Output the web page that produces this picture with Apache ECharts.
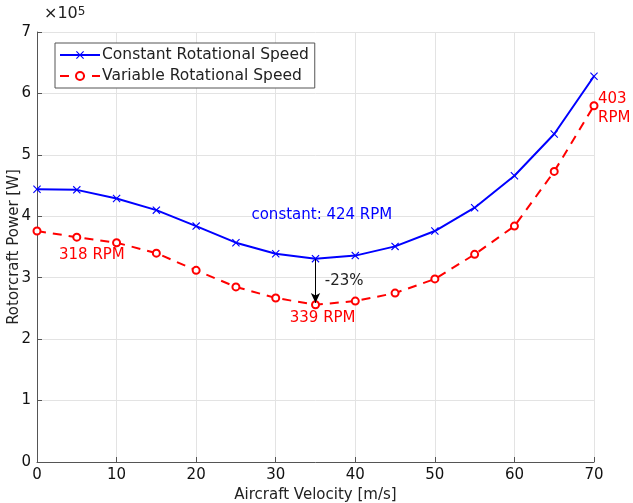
<!DOCTYPE html>
<html>
<head>
<meta charset="utf-8">
<script src="https://cdn.jsdelivr.net/npm/echarts@6/dist/echarts.min.js"></script>
<style>
  html, body { margin: 0; padding: 0; background: #fff; }
  #chart { width: 633px; height: 503px; }
</style>
</head>
<body>
<div id="chart"></div>
<script>
// velocity [m/s]
var velocity = [0, 5, 10, 15, 20, 25, 30, 35, 40, 45, 50, 55, 60, 65, 70];
// power in units of 1e5 W
var constantSpeed = [4.44, 4.43, 4.29, 4.10, 3.84, 3.57, 3.39, 3.31, 3.36, 3.51, 3.76, 4.14, 4.66, 5.34, 6.28];
var variableSpeed = [3.76, 3.66, 3.57, 3.40, 3.12, 2.85, 2.67, 2.56, 2.62, 2.75, 2.98, 3.38, 3.84, 4.73, 5.80];

var font = 'DejaVu Sans';
var xMark = 'path://M0,1 L1,0 L5,4 L9,0 L10,1 L6,5 L10,9 L9,10 L5,6 L1,10 L0,9 L4,5 Z';

function pairs(xs, ys) {
    return xs.map(function (x, i) { return [x, ys[i]]; });
}

function note(text, coord, color, align, offset) {
    return {
        coord: coord,
        symbol: 'circle',
        symbolSize: 1,
        itemStyle: { color: 'rgba(0,0,0,0)', borderWidth: 0 },
        label: {
            show: true,
            position: 'inside',
            formatter: text,
            color: color,
            fontFamily: font,
            fontSize: 15,
            align: align || 'center',
            offset: offset || [0, 0],
            lineHeight: 19
        }
    };
}

var myChart = echarts.init(document.getElementById('chart'));
var option = {
    backgroundColor: '#fff',
    animation: false,
    textStyle: { fontFamily: font },
    grid: { left: 37, right: 39, top: 32, bottom: 41, outerBoundsMode: 'none', containLabel: false },
    legend: {
        left: 55, top: 43,
        orient: 'vertical',
        itemWidth: 40, itemHeight: 10, itemGap: 5,
        padding: [4, 6, 4, 4],
        borderColor: '#555', borderWidth: 1,
        backgroundColor: '#fff',
        borderRadius: 0,
        textStyle: { fontFamily: font, fontSize: 15.5, color: '#222', padding: [0, 0, 0, -3] },
        data: ['Constant Rotational Speed', 'Variable Rotational Speed']
    },
    xAxis: {
        type: 'value', min: 0, max: 70, interval: 10,
        name: 'Aircraft Velocity [m/s]', nameLocation: 'middle', nameGap: 24,
        nameTextStyle: { fontSize: 15, color: '#222' },
        axisLine: { lineStyle: { color: '#555' } },
        axisTick: { inside: true, length: 5, lineStyle: { color: '#555' } },
        axisLabel: { fontSize: 15, color: '#111', margin: 6 },
        splitLine: { show: true, lineStyle: { color: '#e3e3e3' } }
    },
    yAxis: {
        type: 'value', min: 0, max: 7, interval: 1,
        name: 'Rotorcraft Power [W]', nameLocation: 'middle', nameGap: 15,
        nameMoveOverlap: false,
        nameTextStyle: { fontSize: 15, color: '#222' },
        axisLine: { show: true, lineStyle: { color: '#555' } },
        axisTick: { show: true, inside: true, length: 5, lineStyle: { color: '#555' } },
        axisLabel: { fontSize: 15, color: '#111', margin: 6 },
        splitLine: { show: true, lineStyle: { color: '#e3e3e3' } }
    },
    graphic: [{
        type: 'text', left: 44, top: 6,
        style: {
            text: '{a|×10}{b|5}',
            rich: {
                a: { fontFamily: font, fontSize: 16, fill: '#222', verticalAlign: 'bottom' },
                b: { fontFamily: font, fontSize: 12, fill: '#222', verticalAlign: 'top' }
            }
        }
    }],
    series: [{
        name: 'Constant Rotational Speed',
        type: 'line',
        data: pairs(velocity, constantSpeed),
        symbol: xMark, symbolSize: 8,
        color: '#0000ff',
        lineStyle: { width: 2, color: '#0000ff' },
        itemStyle: { color: '#0000ff' },
        markPoint: {
            data: [note('constant: 424 RPM', [35.8, 4.02], '#0000ff')]
        },
        z: 3
    }, {
        name: 'Variable Rotational Speed',
        type: 'line',
        data: pairs(velocity, variableSpeed),
        symbol: 'emptyCircle', symbolSize: 7,
        color: '#ff0000',
        lineStyle: { width: 2, color: '#ff0000', type: [9, 7] },
        itemStyle: { color: '#ff0000', borderColor: '#ff0000', borderWidth: 1.6 },
        markPoint: {
            data: [
                note('318 RPM', [6.9, 3.37], '#ff0000'),
                note('339 RPM', [35.9, 2.35], '#ff0000'),
                note('403\nRPM', [70, 5.78], '#ff0000', 'left', [4, 2]),
                note('-23%', [38.6, 2.95], '#222')
            ]
        },
        markLine: {
            silent: true,
            symbol: ['none', 'arrow'],
            symbolSize: [7, 10],
            label: { show: false },
            lineStyle: { color: '#000', width: 1, type: 'solid' },
            data: [[{ coord: [35, 3.30] }, { coord: [35, 2.59] }]]
        },
        z: 2
    }]
};
myChart.setOption(option);
window.addEventListener('resize', function () {
    myChart.resize();
});
</script>
</body>
</html>
